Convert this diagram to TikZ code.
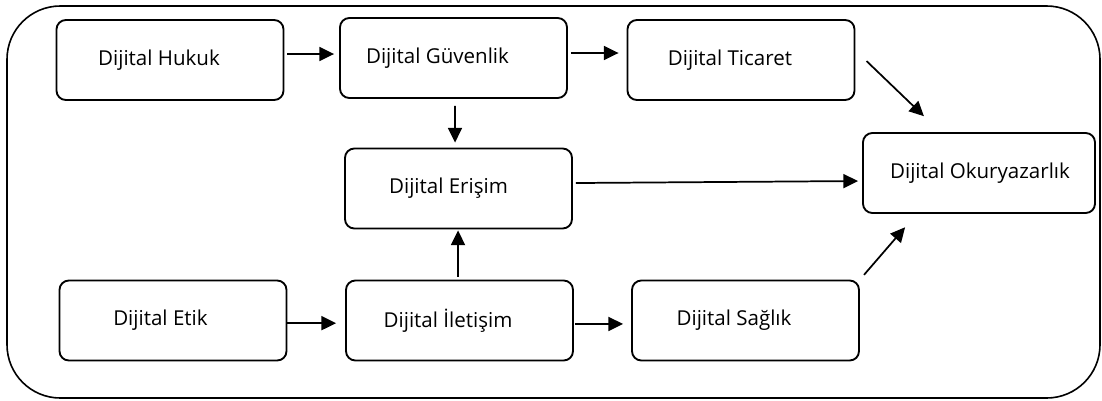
\documentclass[tikz,border=0pt]{standalone}
\usepackage{fontspec}
\setmainfont{Open Sans}
\usetikzlibrary{arrows.meta}

\tikzset{
  blok/.style={draw, rounded corners=7pt, line width=1.4pt,
    minimum width=170.25pt, minimum height=60pt, inner sep=0pt},
  ok/.style={-{Triangle[length=11pt,width=10.5pt]}, line width=1.3pt},
}

\begin{document}
\begin{tikzpicture}[x=0.75pt, y=-0.75pt, font=\fontsize{15.4}{18}\selectfont]
  \useasboundingbox (0,0) rectangle (1102,400);
  % dis cerceve
  \draw[line width=1.2pt, rounded corners=40pt] (7,6) rectangle (1100,398);
  % ust sira
  \node[blok, label={[name=hukuk-y, xshift=-8.25pt]center:Dijital Hukuk}] (hukuk) at (170,60) {};
  \node[blok, label={[name=guvenlik-y, xshift=-12pt]center:Dijital Güvenlik}] (guvenlik) at (453.5,58) {};
  \node[blok, label={[name=ticaret-y, xshift=-8.25pt]center:Dijital Ticaret}] (ticaret) at (741,60) {};
  % orta sira
  \node[blok, label={[name=erisim-y, xshift=-7.5pt]center:Dijital Erişim}] (erisim) at (458.5,188.5) {};
  \node[blok, minimum width=174pt, label={[name=okur-y, xshift=0.75pt]center:Dijital Okuryazarlık}] (okur) at (979,173) {};
  % alt sira
  \node[blok, label={[name=etik-y, xshift=-9.4pt]center:Dijital Etik}] (etik) at (173,320.5) {};
  \node[blok, label={[name=iletisim-y, xshift=-8.6pt]center:Dijital İletişim}] (iletisim) at (459.5,320.5) {};
  \node[blok, label={[name=saglik-y, xshift=-8.6pt]center:Dijital Sağlık}] (saglik) at (745.5,320.5) {};
  % oklar
  \draw[ok, shorten <=2.25pt, shorten >=3.75pt] ([yshift=4.5pt]hukuk.east) -- ([yshift=3pt]guvenlik.west);
  \draw[ok, shorten <=2.25pt, shorten >=6pt] ([yshift=3.75pt]guvenlik.east) -- ([yshift=5.25pt]ticaret.west);
  \draw[ok, shorten <=5.25pt, shorten >=3.75pt] ([xshift=1.1pt]guvenlik.south) -- ([xshift=-2.6pt]erisim.north);
  \draw[ok, shorten <=11.5pt, shorten >=17.2pt] ([yshift=7.2pt]ticaret.east) -- ([xshift=-28.9pt]okur.north);
  \draw[ok, shorten <=2.25pt, shorten >=3pt] ([yshift=4.1pt]erisim.east) -- ([yshift=-6pt]okur.west);
  \draw[ok, shorten <=2.25pt, shorten >=0.75pt] ([xshift=-1.1pt]iletisim.north) -- ([xshift=-1.1pt]iletisim.north |- erisim.south);
  \draw[ok, shorten >=6.75pt] ([yshift=-2pt]etik.east) -- ([yshift=-2pt]iletisim.west);
  \draw[ok, shorten <=0.75pt, shorten >=6pt] ([yshift=-2.6pt]iletisim.east) -- ([yshift=-2.6pt]saglik.west);
  \draw[ok, shorten <=4.7pt, shorten >=13.2pt] (saglik.north east) -- ([xshift=-46.8pt]okur.south);
\end{tikzpicture}
\end{document}
